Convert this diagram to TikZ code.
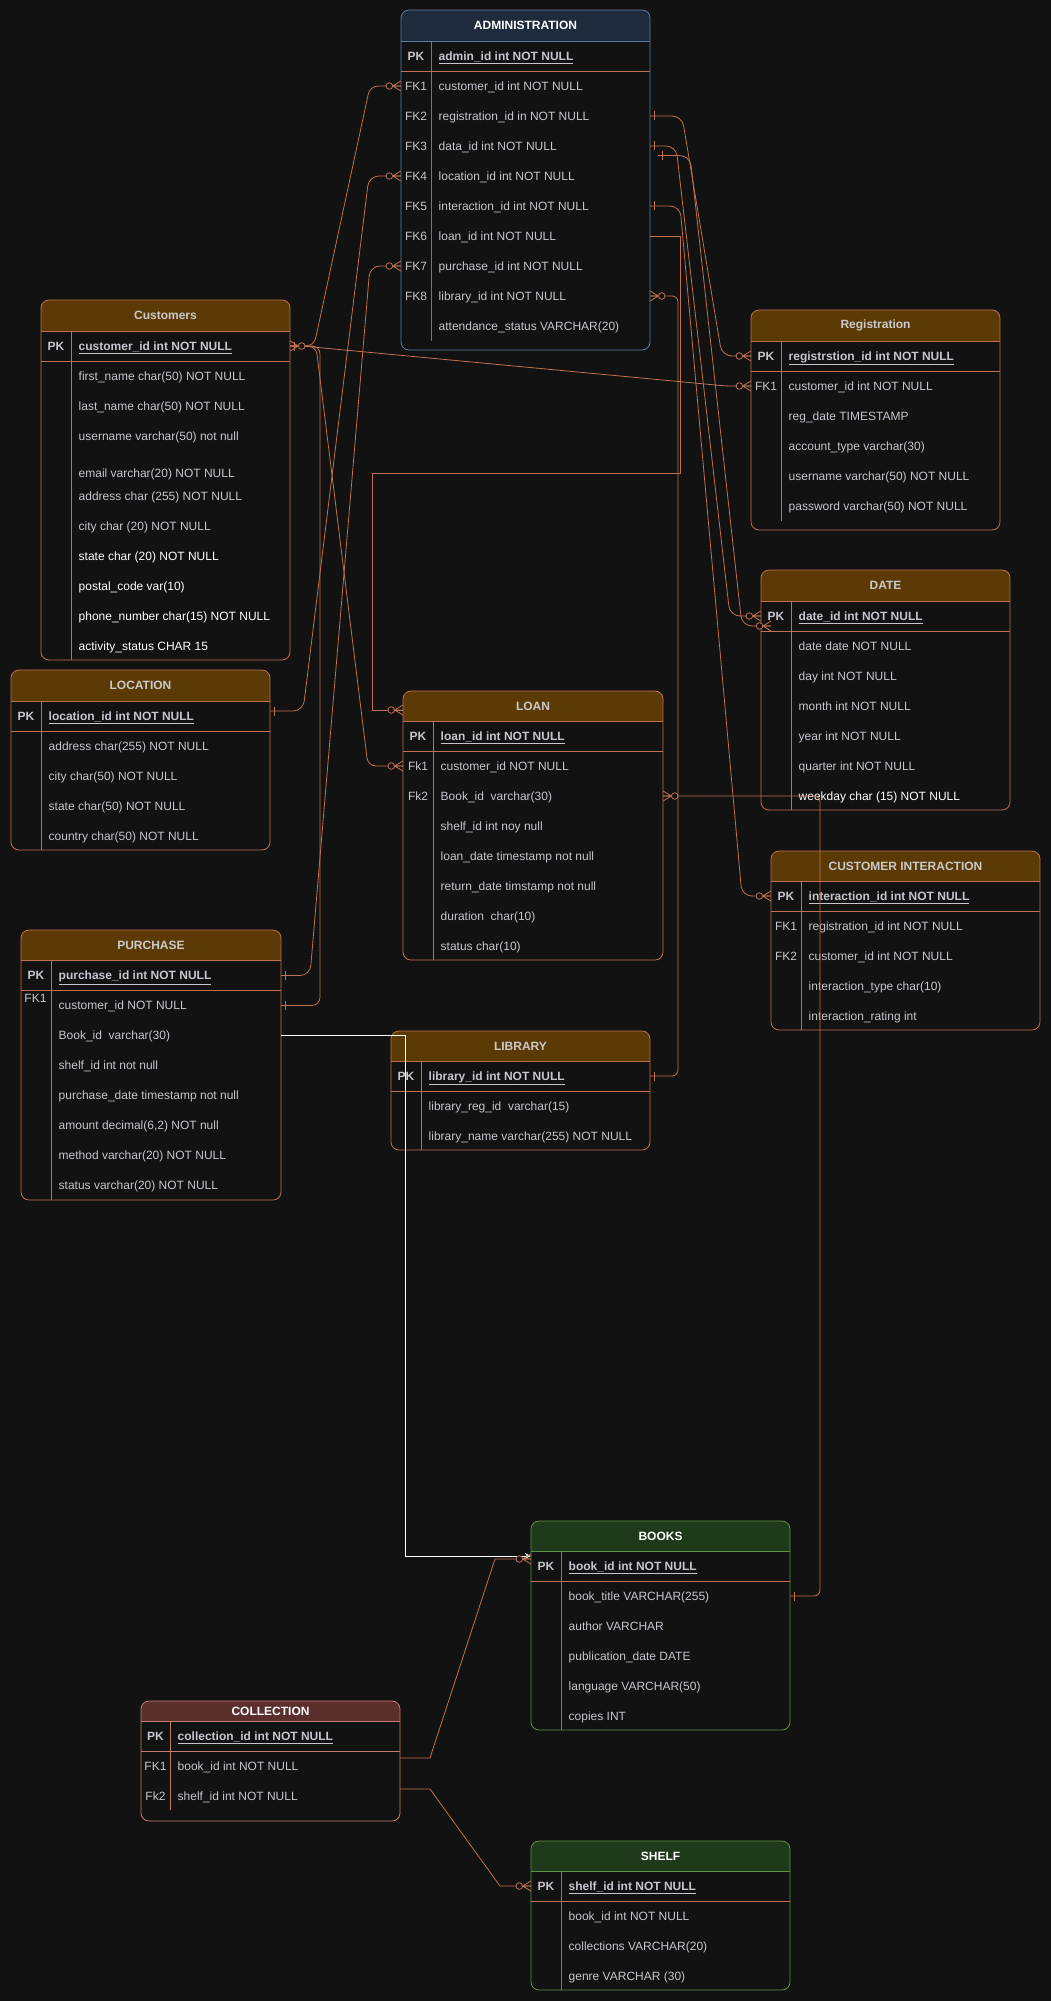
\documentclass[tikz,border=0pt]{standalone}
\usepackage{fontspec}
\setmainfont{Liberation Sans}
\usetikzlibrary{arrows.meta}
\definecolor{bgc}{HTML}{121212}
\definecolor{ln}{HTML}{C0714F}
\definecolor{brn}{HTML}{5C3A06}
\definecolor{navy}{HTML}{1E2B3D}
\definecolor{navyb}{HTML}{5A7BA3}
\definecolor{grn}{HTML}{1F3A1B}
\definecolor{grnb}{HTML}{5E9147}
\definecolor{mar}{HTML}{5A2E2B}
\definecolor{marb}{HTML}{C47B70}
\definecolor{txt}{HTML}{C6C6CE}
\definecolor{ttl}{HTML}{CACACA}
\newcommand{\pkt}[1]{\textbf{\underline{#1}}}
\newcommand{\wt}[1]{\textcolor{white}{#1}}
% table frame: L,T,R,B,header bottom,hdr fill,border colour
\newcommand{\tframe}[7]{%
  \fill[bgc,rounded corners=8pt] (#1,#2) rectangle (#3,#4);
  \begin{scope}\clip[rounded corners=8pt] (#1,#2) rectangle (#3,#4);
    \fill[#6] (#1,#2) rectangle (#3,#5);\end{scope}
  \draw[#7,line width=0.8pt,rounded corners=8pt] (#1,#2) rectangle (#3,#4);
  \draw[#7,line width=0.8pt] (#1,#5) -- (#3,#5);}
% header title: name,L,R,T,Hb,text
\newcommand{\thead}[6]{%
  \node[hdrn, minimum width={#3-#2}, minimum height={#5-#4}] (#1) at ({(#2+#3)/2},{(#4+#5)/2}) {#6};}
% field row: name,L,R,divider,y,key,text
\newcommand{\fld}[7]{%
  \node[rowanc, minimum width={#3-#2}] (#1) at ({(#2+#3)/2},#5) {};
  \node[keyt] (#1-k) at ({(#2+#4)/2},{#5+4.3}) {#6};
  \node[fldt] (#1-t) at ({#4+7.5},{#5+4.3}) {#7};}
% zero-or-many mark at edge point, angle = outward direction
\newcommand{\mkmany}[2]{\begin{scope}[shift={#1},rotate=#2]
  \draw[conn] (0,-5) -- (8,0) -- (0,5) (0,0) -- (8,0);
  \draw[conn,fill=bgc] (11.5,0) circle[radius=3.3pt];\end{scope}}
% one mark
\newcommand{\mkone}[2]{\begin{scope}[shift={#1},rotate=#2]
  \draw[conn] (4,-4.5) -- (4,4.5);\end{scope}}
\begin{document}
\begin{tikzpicture}[x=1pt,y=-1pt,
  rowanc/.style={inner sep=0pt,minimum height=1pt,draw=none},
  keyt/.style={anchor=base,inner sep=0pt,font=\fontsize{12}{14}\selectfont,text=txt},
  fldt/.style={anchor=base west,inner sep=0pt,font=\fontsize{12}{14}\selectfont,text=txt},
  hdrn/.style={inner sep=0pt,font=\bfseries\fontsize{12}{14}\selectfont,text=ttl},
  conn/.style={draw=ln,line width=0.8pt}]
\useasboundingbox (0,0) rectangle (1051,2001);
\fill[bgc] (0,0) rectangle (1051,2001);

% ---------------- ADMINISTRATION
\tframe{401}{10}{650}{350}{41}{navy}{navyb}
\thead{adm-h}{401}{650}{10}{41}{\textcolor{white}{ADMINISTRATION}}
\draw[ln,line width=0.8pt] (401,71) -- (650,71);
\draw[navyb,line width=0.8pt] (431,41) -- (431,341);
\fld{adm-pk}{401}{650}{431}{56}{\textbf{PK}}{\pkt{admin\_id int NOT NULL}}
\fld{adm-fk1}{401}{650}{431}{86}{FK1}{customer\_id int NOT NULL}
\fld{adm-fk2}{401}{650}{431}{116}{FK2}{registration\_id in NOT NULL}
\fld{adm-fk3}{401}{650}{431}{146}{FK3}{data\_id int NOT NULL}
\fld{adm-fk4}{401}{650}{431}{176}{FK4}{location\_id int NOT NULL}
\fld{adm-fk5}{401}{650}{431}{206}{FK5}{interaction\_id int NOT NULL}
\fld{adm-fk6}{401}{650}{431}{236}{FK6}{loan\_id int NOT NULL}
\fld{adm-fk7}{401}{650}{431}{266}{FK7}{purchase\_id int NOT NULL}
\fld{adm-fk8}{401}{650}{431}{296}{FK8}{library\_id int NOT NULL}
\fld{adm-att}{401}{650}{431}{326}{}{attendance\_status VARCHAR(20)}

% ---------------- Customers
\tframe{41}{300}{290}{660}{331}{brn}{ln}
\thead{cus-h}{41}{290}{300}{331}{Customers}
\draw[ln,line width=0.8pt] (41,361) -- (290,361);
\draw[ln,line width=0.8pt] (71,331) -- (71,660);
\fld{cus-pk}{41}{290}{71}{346}{\textbf{PK}}{\pkt{customer\_id int NOT NULL}}
\fld{cus-fn}{41}{290}{71}{376}{}{first\_name char(50) NOT NULL}
\fld{cus-ln}{41}{290}{71}{406}{}{last\_name char(50) NOT NULL}
\fld{cus-un}{41}{290}{71}{436}{}{username varchar(50) not null}
\fld{cus-em}{41}{290}{71}{472.7}{}{email varchar(20) NOT NULL}
\fld{cus-ad}{41}{290}{71}{496}{}{address char (255) NOT NULL}
\fld{cus-ci}{41}{290}{71}{526}{}{city char (20) NOT NULL}
\fld{cus-st}{41}{290}{71}{556}{}{\wt{state char (20) NOT NULL}}
\fld{cus-po}{41}{290}{71}{586}{}{\wt{postal\_code var(10)}}
\fld{cus-ph}{41}{290}{71}{616}{}{\wt{phone\_number char(15) NOT NULL}}
\fld{cus-ac}{41}{290}{71}{646}{}{\wt{activity\_status CHAR 15}}

% ---------------- Registration
\tframe{751}{310}{1000}{530}{341}{brn}{ln}
\thead{reg-h}{751}{1000}{310}{341}{Registration}
\draw[ln,line width=0.8pt] (751,371) -- (1000,371);
\draw[ln,line width=0.8pt] (781,341) -- (781,521);
\fld{reg-pk}{751}{1000}{781}{356}{\textbf{PK}}{\pkt{registrstion\_id int NOT NULL}}
\fld{reg-fk1}{751}{1000}{781}{386}{FK1}{customer\_id int NOT NULL}
\fld{reg-rd}{751}{1000}{781}{416}{}{reg\_date TIMESTAMP}
\fld{reg-at}{751}{1000}{781}{446}{}{account\_type varchar(30)}
\fld{reg-un}{751}{1000}{781}{476}{}{username varchar(50) NOT NULL}
\fld{reg-pw}{751}{1000}{781}{506}{}{password varchar(50) NOT NULL}

% ---------------- DATE
\tframe{761}{570}{1010}{810}{601}{brn}{ln}
\thead{date-h}{761}{1010}{570}{601}{DATE}
\draw[ln,line width=0.8pt] (761,631) -- (1010,631);
\draw[ln,line width=0.8pt] (791,601) -- (791,810);
\fld{date-pk}{761}{1010}{791}{616}{\textbf{PK}}{\pkt{date\_id int NOT NULL}}
\fld{date-d}{761}{1010}{791}{646}{}{date date NOT NULL}
\fld{date-day}{761}{1010}{791}{676}{}{day int NOT NULL}
\fld{date-m}{761}{1010}{791}{706}{}{month int NOT NULL}
\fld{date-y}{761}{1010}{791}{736}{}{year int NOT NULL}
\fld{date-q}{761}{1010}{791}{766}{}{quarter int NOT NULL}
\fld{date-w}{761}{1010}{791}{796}{}{\wt{weekday char (15) NOT NULL}}

% ---------------- LOCATION
\tframe{11}{670}{270}{850}{701}{brn}{ln}
\thead{loc-h}{11}{270}{670}{701}{LOCATION}
\draw[ln,line width=0.8pt] (11,731) -- (270,731);
\draw[ln,line width=0.8pt] (41,701) -- (41,850);
\fld{loc-pk}{11}{270}{41}{716}{\textbf{PK}}{\pkt{location\_id int NOT NULL}}
\fld{loc-ad}{11}{270}{41}{746}{}{address char(255) NOT NULL}
\fld{loc-ci}{11}{270}{41}{776}{}{city char(50) NOT NULL}
\fld{loc-st}{11}{270}{41}{806}{}{state char(50) NOT NULL}
\fld{loc-co}{11}{270}{41}{836}{}{country char(50) NOT NULL}

% ---------------- PURCHASE
\tframe{21}{930}{281}{1200}{960}{brn}{ln}
\thead{pur-h}{21}{281}{930}{960}{PURCHASE}
\draw[ln,line width=0.8pt] (21,990) -- (281,990);
\draw[ln,line width=0.8pt] (51,960) -- (51,1200);
\fld{pur-pk}{21}{281}{51}{975.5}{\textbf{PK}}{\pkt{purchase\_id int NOT NULL}}
\fld{pur-fk1}{21}{281}{51}{1005.4}{}{customer\_id NOT NULL}
\node[keyt] (pur-fk1-lbl) at (35.5,1002.7) {FK1};
\fld{pur-book}{21}{281}{51}{1035.4}{}{Book\_id\ \ varchar(30)}
\fld{pur-sh}{21}{281}{51}{1065.4}{}{shelf\_id int not null}
\fld{pur-pd}{21}{281}{51}{1095.4}{}{purchase\_date timestamp not null}
\fld{pur-am}{21}{281}{51}{1125.5}{}{amount decimal(6,2) NOT null}
\fld{pur-me}{21}{281}{51}{1155.5}{}{method varchar(20) NOT NULL}
\fld{pur-st}{21}{281}{51}{1185.5}{}{status varchar(20) NOT NULL}

% ---------------- LOAN
\tframe{403}{691}{663}{960}{721}{brn}{ln}
\thead{loan-h}{403}{663}{691}{721}{LOAN}
\draw[ln,line width=0.8pt] (403,751) -- (663,751);
\draw[ln,line width=0.8pt] (433,721) -- (433,960);
\fld{loan-pk}{403}{663}{433}{736}{\textbf{PK}}{\pkt{loan\_id int NOT NULL}}
\fld{loan-fk1}{403}{663}{433}{766}{Fk1}{customer\_id NOT NULL}
\fld{loan-fk2}{403}{663}{433}{796}{Fk2}{Book\_id\ \ varchar(30)}
\fld{loan-sh}{403}{663}{433}{826}{}{shelf\_id int noy null}
\fld{loan-ld}{403}{663}{433}{856}{}{loan\_date timestamp not null}
\fld{loan-rd}{403}{663}{433}{886}{}{return\_date timstamp not null}
\fld{loan-du}{403}{663}{433}{916}{}{duration\ \ char(10)}
\fld{loan-st}{403}{663}{433}{946}{}{status char(10)}

% ---------------- LIBRARY
\tframe{391}{1031}{650}{1150}{1061}{brn}{ln}
\thead{lib-h}{391}{650}{1031}{1061}{LIBRARY}
\draw[ln,line width=0.8pt] (391,1091) -- (650,1091);
\draw[ln,line width=0.8pt] (421,1061) -- (421,1150);
\fld{lib-pk}{391}{650}{421}{1076}{\textbf{PK}}{\pkt{library\_id int NOT NULL}}
\fld{lib-reg}{391}{650}{421}{1106}{}{library\_reg\_id\ \ varchar(15)}
\fld{lib-nm}{391}{650}{421}{1136}{}{library\_name varchar(255) NOT NULL}

% ---------------- CUSTOMER INTERACTION
\tframe{771}{851}{1040}{1030}{881}{brn}{ln}
\thead{ci-h}{771}{1040}{851}{881}{CUSTOMER INTERACTION}
\draw[ln,line width=0.8pt] (771,911) -- (1040,911);
\draw[ln,line width=0.8pt] (801,881) -- (801,1030);
\fld{ci-pk}{771}{1040}{801}{896}{\textbf{PK}}{\pkt{interaction\_id int NOT NULL}}
\fld{ci-fk1}{771}{1040}{801}{926}{FK1}{registration\_id int NOT NULL}
\fld{ci-fk2}{771}{1040}{801}{956}{FK2}{customer\_id int NOT NULL}
\fld{ci-ty}{771}{1040}{801}{986}{}{interaction\_type char(10)}
\fld{ci-ra}{771}{1040}{801}{1016}{}{interaction\_rating int}

% ---------------- BOOKS
\tframe{531}{1521}{790}{1730}{1551}{grn}{grnb}
\thead{bk-h}{531}{790}{1521}{1551}{\textcolor{white}{BOOKS}}
\draw[ln,line width=0.8pt] (531,1581) -- (790,1581);
\draw[grnb,line width=0.8pt] (561,1551) -- (561,1730);
\fld{bk-pk}{531}{790}{561}{1566}{\textbf{PK}}{\pkt{book\_id int NOT NULL}}
\fld{bk-title}{531}{790}{561}{1596}{}{book\_title VARCHAR(255)}
\fld{bk-au}{531}{790}{561}{1626}{}{author VARCHAR}
\fld{bk-pub}{531}{790}{561}{1656}{}{publication\_date DATE}
\fld{bk-lang}{531}{790}{561}{1686}{}{language VARCHAR(50)}
\fld{bk-cp}{531}{790}{561}{1716}{}{copies INT}

% ---------------- COLLECTION
\tframe{141}{1701}{400}{1821}{1721}{mar}{marb}
\thead{col-h}{141}{400}{1701}{1721}{\textcolor{white}{COLLECTION}}
\draw[marb,line width=0.8pt] (141,1751) -- (400,1751);
\draw[marb,line width=0.8pt] (170,1721) -- (170,1810);
\fld{col-pk}{141}{400}{170}{1736}{\textbf{PK}}{\pkt{collection\_id int NOT NULL}}
\fld{col-fk1}{141}{400}{170}{1766}{FK1}{book\_id int NOT NULL}
\fld{col-fk2}{141}{400}{170}{1796}{Fk2}{shelf\_id int NOT NULL}

% ---------------- SHELF
\tframe{531}{1841}{790}{1990}{1871}{grn}{grnb}
\thead{sh-h}{531}{790}{1841}{1871}{\textcolor{white}{SHELF}}
\draw[ln,line width=0.8pt] (531,1901) -- (790,1901);
\draw[grnb,line width=0.8pt] (561,1871) -- (561,1990);
\fld{sh-pk}{531}{790}{561}{1886}{\textbf{PK}}{\pkt{shelf\_id int NOT NULL}}
\fld{sh-bk}{531}{790}{561}{1916}{}{book\_id int NOT NULL}
\fld{sh-co}{531}{790}{561}{1946}{}{collections VARCHAR(20)}
\fld{sh-ge}{531}{790}{561}{1976}{}{genre VARCHAR (30)}

% ================= connectors
\coordinate (adm-x) at (658,155.6);
\coordinate (date-x) at (771,626);
\draw[conn,rounded corners=8pt] (cus-pk.east) -- (314,346) -- (370,86) -- (adm-fk1.west);
\draw[conn,rounded corners=6pt] (cus-pk.east) -- (302,346) -- (726,386) -- (reg-fk1.west);
\draw[conn,rounded corners=8pt] (cus-pk.east) -- (316,346) -- (368,766) -- (loan-fk1.west);
\draw[conn,rounded corners=8pt] (cus-pk.east) -- (320,346) -- (320,1005.4) -- (pur-fk1.east);
\draw[conn,rounded corners=10pt] (adm-fk4.west) -- (369,176) -- (303,711) -- ([yshift=5pt]loc-pk.east);
\draw[conn,rounded corners=10pt] (adm-fk7.west) -- (370,266) -- (310,975.5) -- (pur-pk.east);
\draw[conn] (adm-fk6.east) -- (680,236) -- (680,473) -- (372.7,473) -- (372.7,710) -- ([yshift=-4pt]loan-h.west);
\draw[conn,rounded corners=6pt] (adm-fk8.east) -- (678,296) -- (678,1076) -- (lib-pk.east);
\draw[conn,rounded corners=10pt] (adm-fk2.east) -- (682,116) -- (722,356) -- (reg-pk.west);
\draw[conn,rounded corners=10pt] (adm-fk3.east) -- (676,146) -- (730,616) -- (date-pk.west);
\draw[conn,rounded corners=10pt] (adm-x) -- (690,155.6) -- (742,626) -- (date-x);
\draw[conn,rounded corners=10pt] (adm-fk5.east) -- (680,206) -- (742,896) -- (ci-pk.west);
\draw[conn,rounded corners=6pt] (loan-fk2.east) -- (820,796) -- (820,1596) -- (bk-title.east);
\draw[white,line width=0.9pt,-{Stealth[length=6pt,width=6pt]}] (pur-book.east) -- (405.5,1035.4) -- (405.5,1556) -- ([yshift=10pt]bk-pk.west);
\draw[conn] ([yshift=8pt]col-fk1.east) -- (430,1758) -- (495,1559) -- ([yshift=7pt]bk-pk.west);
\draw[conn] ([yshift=7pt]col-fk2.east) -- (430,1789) -- (500,1886) -- (sh-pk.west);

% ================= end marks
\mkmany{(adm-fk1.west)}{180}
\mkmany{(adm-fk4.west)}{180}
\mkmany{(adm-fk7.west)}{180}
\mkone{(adm-fk2.east)}{0}
\mkone{(adm-fk3.east)}{0}
\mkone{(adm-fk5.east)}{0}
\mkone{(adm-x)}{0}
\mkmany{(adm-fk8.east)}{0}
\mkmany{(reg-pk.west)}{180}
\mkmany{(reg-fk1.west)}{180}
\mkmany{(date-pk.west)}{180}
\mkmany{(date-x)}{180}
\mkmany{(ci-pk.west)}{180}
\mkmany{([yshift=-4pt]loan-h.west)}{180}
\mkmany{(loan-fk1.west)}{180}
\mkmany{(loan-fk2.east)}{0}
\mkone{(lib-pk.east)}{0}
\mkone{(pur-pk.east)}{0}
\mkone{(pur-fk1.east)}{0}
\mkone{([yshift=5pt]loc-pk.east)}{0}
\mkone{(bk-title.east)}{0}
\mkmany{([yshift=7pt]bk-pk.west)}{180}
\mkmany{(sh-pk.west)}{180}
\mkmany{(cus-pk.east)}{0}
\mkone{(cus-pk.east)}{0}
\end{tikzpicture}
\end{document}
